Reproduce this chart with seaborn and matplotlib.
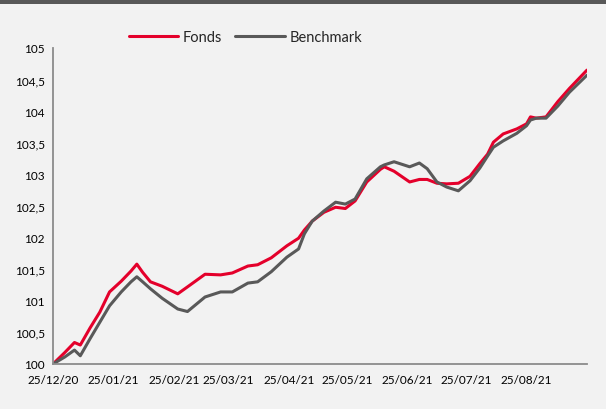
import matplotlib
matplotlib.use("Agg")
import matplotlib.pyplot as plt
import matplotlib.dates as mdates
from matplotlib.ticker import FuncFormatter, FixedLocator
import pandas as pd
import seaborn as sns

dates = ["2020-12-25", "2020-12-31", "2021-01-05", "2021-01-08", "2021-01-13", "2021-01-18",
         "2021-01-23", "2021-01-29", "2021-02-03", "2021-02-06", "2021-02-09", "2021-02-13",
         "2021-02-19", "2021-02-27", "2021-03-04", "2021-03-13", "2021-03-21", "2021-03-27",
         "2021-04-04", "2021-04-09", "2021-04-16", "2021-04-24", "2021-04-30", "2021-05-03",
         "2021-05-07", "2021-05-13", "2021-05-19", "2021-05-24", "2021-05-29", "2021-06-04",
         "2021-06-11", "2021-06-13", "2021-06-18", "2021-06-26", "2021-07-01", "2021-07-05",
         "2021-07-10", "2021-07-15", "2021-07-21", "2021-07-27", "2021-08-01", "2021-08-05",
         "2021-08-08", "2021-08-13", "2021-08-20", "2021-08-25", "2021-08-27", "2021-08-30",
         "2021-09-04", "2021-09-10", "2021-09-16", "2021-09-25"]

fonds = [100.00, 100.18, 100.34, 100.30, 100.57, 100.82,
         101.14, 101.31, 101.47, 101.58, 101.45, 101.30,
         101.23, 101.11, 101.22, 101.42, 101.41, 101.44,
         101.55, 101.57, 101.68, 101.87, 101.99, 102.12,
         102.26, 102.40, 102.48, 102.46, 102.58, 102.88,
         103.08, 103.12, 103.05, 102.88, 102.92, 102.92,
         102.86, 102.85, 102.86, 102.97, 103.17, 103.32,
         103.51, 103.64, 103.72, 103.80, 103.91, 103.89,
         103.91, 104.15, 104.36, 104.65]

benchmark = [100.00, 100.11, 100.22, 100.13, 100.40, 100.66,
             100.92, 101.14, 101.30, 101.38, 101.30, 101.19,
             101.04, 100.87, 100.83, 101.06, 101.14, 101.14,
             101.28, 101.30, 101.46, 101.69, 101.82, 102.06,
             102.26, 102.42, 102.56, 102.53, 102.61, 102.93,
             103.12, 103.15, 103.20, 103.12, 103.18, 103.09,
             102.88, 102.80, 102.74, 102.90, 103.10, 103.29,
             103.43, 103.53, 103.65, 103.77, 103.86, 103.89,
             103.89, 104.08, 104.30, 104.57]

series_names = ["Fonds", "Benchmark"]
series_colors = ["#e4002b", "#595959"]
tick_dates = ["2020-12-25", "2021-01-25", "2021-02-25", "2021-03-25", "2021-04-25",
              "2021-05-25", "2021-06-25", "2021-07-25", "2021-08-25", "2021-09-25"]
tick_labels = ["25/12/20", "25/01/21", "25/02/21", "25/03/21", "25/04/21",
               "25/05/21", "25/06/21", "25/07/21", "25/08/21", ""]
y_ticks = [100, 100.5, 101, 101.5, 102, 102.5, 103, 103.5, 104, 104.5, 105]

df = pd.DataFrame({
    "Date": pd.to_datetime(dates * 2),
    "Value": fonds + benchmark,
    "Serie": [series_names[0]] * len(dates) + [series_names[1]] * len(dates),
})

sns.set_theme(style="white")
plt.rcParams["font.family"] = ["Lato", "DejaVu Sans"]

bg = "#f2f2f2"
fig = plt.figure(figsize=(6.06, 4.10), dpi=100, facecolor=bg)
ax = fig.add_axes([0.0875, 0.1098, 0.8811, 0.7707])
ax.set_facecolor(bg)

sns.lineplot(data=df, x="Date", y="Value", hue="Serie", hue_order=series_names,
             palette=series_colors, linewidth=2.2, ax=ax, legend=True,
             solid_joinstyle="round", solid_capstyle="round")

ax.set_xlim(pd.Timestamp(tick_dates[0]), pd.Timestamp(tick_dates[-1]))
ax.set_ylim(100, 105)
ax.set_xlabel("")
ax.set_ylabel("")

ax.xaxis.set_major_locator(FixedLocator([mdates.date2num(pd.Timestamp(d)) for d in tick_dates]))
ax.set_xticklabels(tick_labels)
ax.set_yticks(y_ticks)
ax.yaxis.set_major_formatter(FuncFormatter(lambda v, p: f"{v:g}".replace(".", ",")))

spine_col = "#8c8c8c"
for s in ["top", "right"]:
    ax.spines[s].set_visible(False)
for s in ["left", "bottom"]:
    ax.spines[s].set_color(spine_col)
    ax.spines[s].set_linewidth(1.3)
ax.tick_params(axis="both", direction="out", length=4, width=1.2, color=spine_col,
               labelsize=8.5, labelcolor="#000000", pad=2)
ax.tick_params(axis="x", pad=3)

leg = ax.legend(loc="center", bbox_to_anchor=(0.405, 0.907), bbox_transform=fig.transFigure,
                ncol=2, frameon=False, fontsize=10.5, handlelength=3.4, handletextpad=0.3,
                columnspacing=0.9)
for line in leg.get_lines():
    line.set_linewidth(2.2)

fig.patches.append(plt.Rectangle((0, 1 - 5 / 410), 1, 5 / 410, transform=fig.transFigure,
                                 facecolor="#595959", edgecolor="none", zorder=10))

fig.savefig("out.png", dpi=100, facecolor=bg)
